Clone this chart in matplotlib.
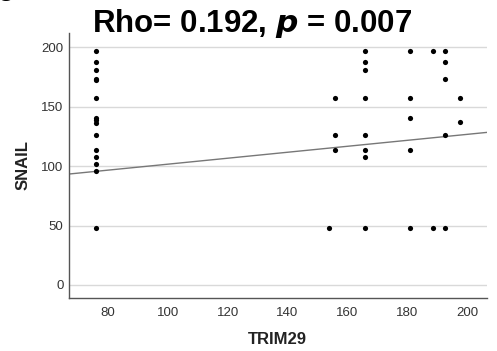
import numpy as np
import matplotlib.pyplot as plt

plt.rcParams['font.family'] = ['Liberation Sans', 'DejaVu Sans']

# TRIM29 vs SNAIL scores
trim29 = [76] * 15 + [154] + [156] * 3 + [166] * 8 + [181] * 5 + [188.5] * 2 + [192.5] * 5 + [197.5] * 2
snail = [197, 188, 180.5, 173.7, 172.3, 157, 140.6, 138.7, 136.4, 126, 113.4, 107.3, 101.4, 96, 48,
         48,
         157, 126, 113.4,
         197, 188, 180.5, 157, 126, 113.4, 107.3, 48,
         197, 157, 140.6, 113.4, 48,
         197, 48,
         197, 188, 173.7, 126, 48,
         157, 136.7]

# fitted line (from the figure)
fit_slope = 0.251
fit_intercept = 76.5

xticks = [80, 100, 120, 140, 160, 180, 200]
yticks = [0, 50, 100, 150, 200]

fig = plt.figure(figsize=(4.97, 3.51), dpi=100)
ax = fig.add_axes([0.1388, 0.152, 0.8402, 0.754])

ax.set_xlim(67, 206.5)
ax.set_ylim(-10.7, 212)
for y in yticks:
    ax.axhline(y, color='#d9d9d9', lw=1.0, zorder=0)

ax.scatter(trim29, snail, s=14, color='black', zorder=3, linewidths=0)
xl = np.array(ax.get_xlim())
ax.plot(xl, fit_intercept + fit_slope * xl, color='#777777', lw=1.0, zorder=2)

ax.set_xticks(xticks)
ax.set_yticks(yticks)
ax.tick_params(length=0, labelsize=9.5, colors='#333333', pad=4)
ax.tick_params(axis='x', pad=7)
for s in ['top', 'right']:
    ax.spines[s].set_visible(False)
for s in ['left', 'bottom']:
    ax.spines[s].set_color('#555555')
    ax.spines[s].set_linewidth(1.0)

ax.set_xlabel('TRIM29', fontsize=12, fontweight='bold', color='#222222', labelpad=9)
ax.set_ylabel('SNAIL', fontsize=12, fontweight='bold', color='#222222', labelpad=8)

fig.text(0.508, 0.908, r'Rho= 0.192, $\mathbfit{p}$ = 0.007', fontsize=22.5, fontweight='bold',
         ha='center', va='baseline')
fig.text(-0.005, 1.035, 'g', fontsize=20, fontweight='bold', ha='left', va='center')

fig.savefig('out.png', dpi=100)
